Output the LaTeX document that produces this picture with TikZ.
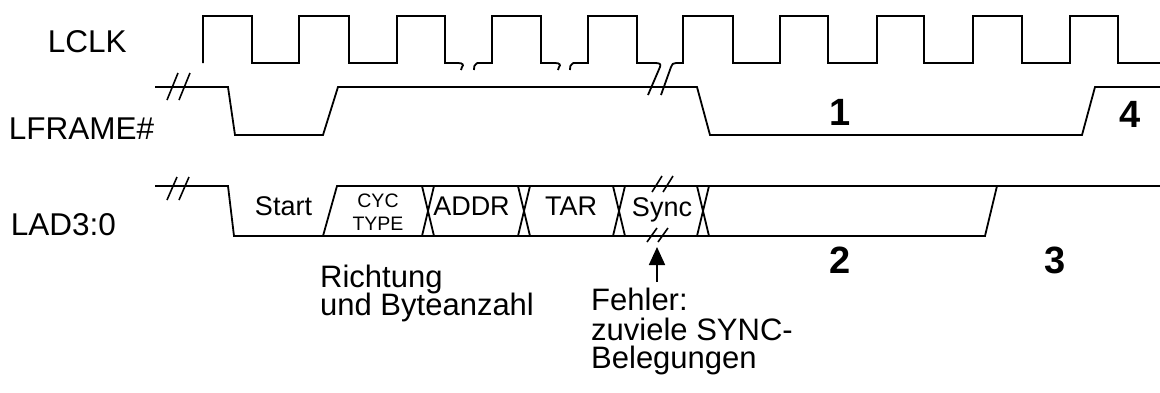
\documentclass[tikz,border=0pt]{standalone}
\usepackage{fontspec}
\setmainfont{Liberation Sans}
\usetikzlibrary{arrows.meta}
\begin{document}
\begin{tikzpicture}[x=1pt,y=-1pt,
  sig/.style={line width=1.8pt, line join=miter, line cap=butt},
  brk/.style={line width=1.6pt},
  lbl/.style={font=\fontsize{31.5}{31.5}\selectfont, inner sep=0pt, anchor=base west},
  txt/.style={font=\fontsize{31}{31}\selectfont, inner sep=0pt, anchor=base west},
  fld/.style={font=\fontsize{27}{27}\selectfont, inner sep=0pt, anchor=base},
  small/.style={font=\fontsize{19.5}{19.5}\selectfont, inner sep=0pt, anchor=base},
  num/.style={font=\fontsize{38}{38}\selectfont\bfseries, inner sep=0pt, anchor=base}]
\useasboundingbox (0,0) rectangle (1160,392);

% signal names
\node[lbl] (lclk) at (47.7,52) {LCLK};
\node[lbl] (lframe) at (8.7,139) {LFRAME\#};
\node[lbl] (lad) at (10.7,235) {LAD3:0};

% LCLK
\draw[sig] (203,63) -- (203,16) -- (252,16) -- (252,63) -- (299,63) -- (299,16)
  -- (349,16) -- (349,63) -- (397,63) -- (397,16) -- (445,16) -- (445,63)
  -- (458,63) .. controls (463,63) and (464,65) .. (462,67) .. controls (461,68) .. (461,70);
\draw[sig] (474,70) .. controls (474,67) and (474,65) .. (476,64) .. controls (477,63) .. (480,63)
  -- (492,63) -- (492,16) -- (541,16) -- (541,63)
  -- (555,63) .. controls (560,63) and (561,65) .. (559,67) .. controls (558,68) .. (558,70);
\draw[sig] (570,70) .. controls (570,67) and (570,65) .. (572,64) .. controls (573,63) .. (576,63)
  -- (588,63) -- (588,16) -- (637,16) -- (637,63)
  -- (655,63) .. controls (660,63) and (661,64) .. (660,67) -- (648,95);
\draw[sig] (661,95) -- (671,67) .. controls (672,64) and (673,63) .. (676,63)
  -- (683,63) -- (683,16) -- (733,16) -- (733,63) -- (780,63) -- (780,16)
  -- (828,16) -- (828,63) -- (877,63) -- (877,16) -- (924,16) -- (924,63)
  -- (973,63) -- (973,16) -- (1022,16) -- (1022,63) -- (1070,63) -- (1070,16)
  -- (1118,16) -- (1118,63) -- (1160,63);

% LFRAME#
\draw[sig] (155,87) -- (228,87) -- (235,135) -- (323,135) -- (338,87) -- (697,87)
  -- (710,135) -- (1082,135) -- (1095,87) -- (1160,87);
\draw[brk] (167,100) -- (178,73);
\draw[brk] (179,100) -- (190,73);

% LAD3:0
\draw[sig] (155,186) -- (228,186) -- (234,236) -- (985,236) -- (997,186);
\draw[sig] (323,236) -- (337,186) -- (1160,186);
\draw[brk] (167,200) -- (177,177);
\draw[brk] (179,200) -- (189,177);
\foreach \xa in {422,518,613,697}{
  \draw[sig] (\xa,186) -- (\xa+12,236);
  \draw[sig] (\xa+12,186) -- (\xa,236);
}
\draw[brk] (652,192) -- (662,176);
\draw[brk] (663,192) -- (673,176);
\draw[brk] (647,242) -- (657,228);
\draw[brk] (658,242) -- (668,228);

% field texts
\node[fld] (start) at (283.5,215) {Start};
\node[small] (cyc) at (378,207) {CYC};
\node[small] (type) at (378,230) {TYPE};
\node[fld] (addr) at (471.5,215) {ADDR};
\node[fld] (tar) at (571,215) {TAR};
\node[fld] (sync) at (662,216) {Sync};

% numbers
\node[num] (n1) at (840,125) {1};
\node[num] (n4) at (1130,127) {4};
\node[num] (n2) at (840,273) {2};
\node[num] (n3) at (1055,273) {3};

% annotations
\node[txt] (r1) at (320,287) {Richtung};
\node[txt] (r2) at (320,315) {und Byteanzahl};
\node[txt] (f1) at (591,310) {Fehler:};
\node[txt] (f2) at (591,340) {zuviele SYNC-};
\node[txt] (f3) at (591,368) {Belegungen};

\coordinate (arrS) at (657,282);
\coordinate (arrE) at (657,247);
\draw[line width=1.8pt, -{Triangle[length=18pt,width=16pt]}] (arrS) -- (arrE);
\end{tikzpicture}
\end{document}
